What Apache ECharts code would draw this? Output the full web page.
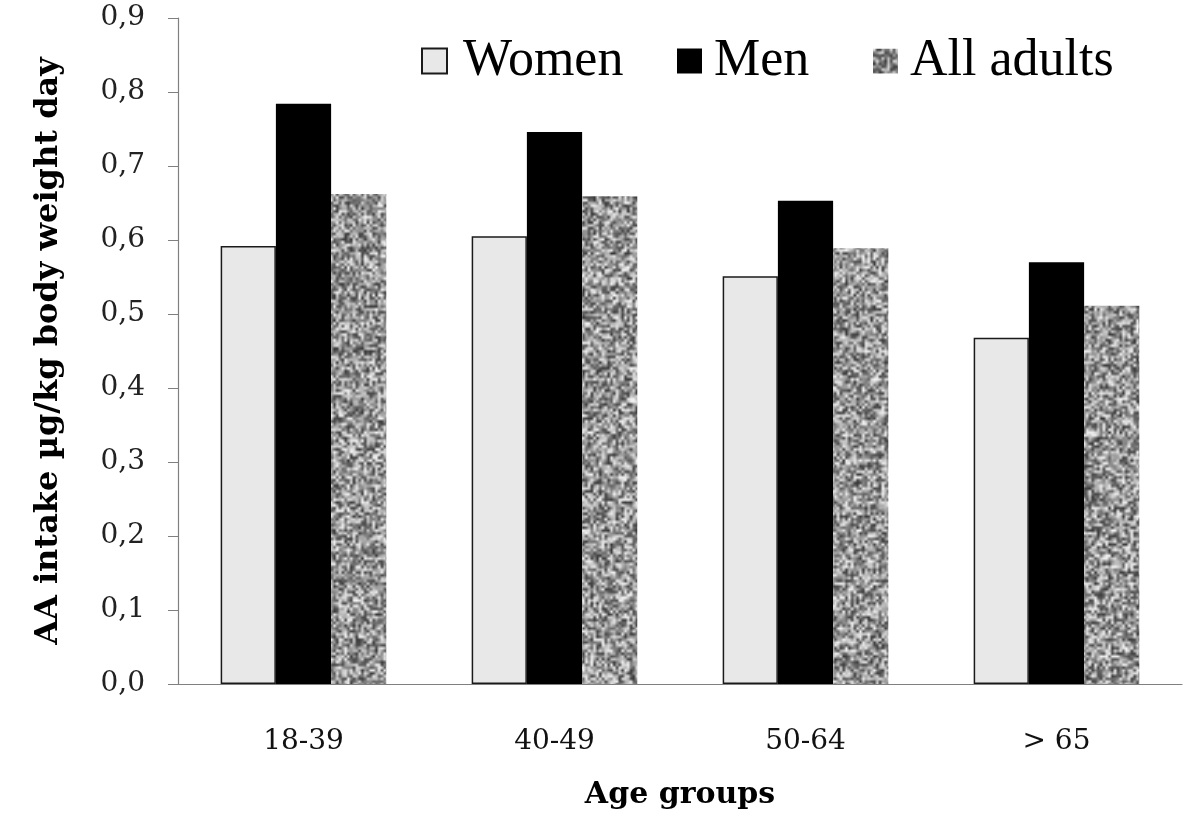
<!DOCTYPE html>
<html>
<head>
<meta charset="utf-8">
<title>AA intake by age group</title>
<script src="https://cdn.jsdelivr.net/npm/echarts@6/dist/echarts.min.js"></script>
<style>
  html, body { margin: 0; padding: 0; background: #fff; }
  #main { width: 1192px; height: 823px; }
</style>
</head>
<body>
<div id="main"></div>
<script>
// data
var ageGroups = ['18-39', '40-49', '50-64', '> 65'];
var women = [0.592, 0.605, 0.551, 0.468];
var men = [0.784, 0.746, 0.653, 0.570];
var allAdults = [0.662, 0.659, 0.589, 0.511];
var yTicks = [0, 0.9, 0.1]; // min, max, step

// blotchy grey texture for "All adults" (seeded, decoration only).
// made as big as the chart so the pattern never repeats -> no seams
function makeTexture(w, h) {
    var k = 2.8;
    var sw = Math.ceil(w / k), sh = Math.ceil(h / k);
    var small = document.createElement('canvas');
    small.width = sw; small.height = sh;
    var sctx = small.getContext('2d');
    var img = sctx.createImageData(sw, sh);
    var a = 20240611;
    function rnd() { // mulberry32
        a |= 0; a = a + 0x6D2B79F5 | 0;
        var t = Math.imul(a ^ a >>> 15, 1 | a);
        t = t + Math.imul(t ^ t >>> 7, 61 | t) ^ t;
        return ((t ^ t >>> 14) >>> 0) / 4294967296;
    }
    for (var i = 0; i < sw * sh; i++) {
        var g = Math.floor(55 + rnd() * 190);
        img.data[i * 4] = g;
        img.data[i * 4 + 1] = g;
        img.data[i * 4 + 2] = g;
        img.data[i * 4 + 3] = 255;
    }
    sctx.putImageData(img, 0, 0);
    var out = document.createElement('canvas');
    out.width = w; out.height = h;
    var ctx = out.getContext('2d');
    ctx.imageSmoothingEnabled = true;
    ctx.filter = 'blur(0.7px)';
    ctx.drawImage(small, 0, 0, w, h);
    return out;
}
var texture = makeTexture(1192, 823);

var serif = 'DejaVu Serif';
var chart = echarts.init(document.getElementById('main'));

var legendPos = [['Women', 421], ['Men', 677], ['All adults', 873]];

var option = {
    animation: false,
    backgroundColor: '#fff',
    grid: { left: 178, right: 10, top: 18, bottom: 139 },
    legend: legendPos.map(function (p) {
        return {
            data: [{ name: p[0], icon: 'rect' }],
            left: p[1], top: 35, padding: 0,
            itemWidth: 25, itemHeight: 25,
            textStyle: {
                fontFamily: 'Liberation Serif', fontSize: 52, color: '#000',
                padding: [2, 0, 0, p[0] === 'Women' ? 11 : 7]
            }
        };
    }),
    xAxis: {
        type: 'category',
        data: ageGroups,
        name: 'Age groups',
        nameLocation: 'middle',
        nameGap: 96,
        nameTextStyle: { fontFamily: serif, fontWeight: 'bold', fontSize: 30, color: '#000' },
        axisLine: { lineStyle: { color: '#808080', width: 1.2 } },
        axisTick: { length: 12, lineStyle: { color: '#808080' } },
        axisLabel: { fontFamily: serif, fontSize: 28, color: '#111', margin: 44 }
    },
    yAxis: {
        type: 'value',
        min: yTicks[0], max: yTicks[1], interval: yTicks[2],
        name: 'AA intake µg/kg body weight day',
        nameLocation: 'middle',
        nameGap: 113,
        nameTextStyle: { fontFamily: serif, fontWeight: 'bold', fontSize: 32, color: '#000' },
        axisLine: { show: true, lineStyle: { color: '#808080', width: 1.2 } },
        axisTick: { show: true, length: 10, lineStyle: { color: '#808080' } },
        splitLine: { show: false },
        axisLabel: {
            fontFamily: serif, fontSize: 28, color: '#222', margin: 33,
            formatter: function (v) { return v.toFixed(1).replace('.', ','); }
        }
    },
    series: [
        {
            name: 'Women', type: 'bar', data: women,
            barGap: '0%', barCategoryGap: '34%',
            itemStyle: { color: '#e8e8e8', borderColor: '#1a1a1a', borderWidth: 1.5 }
        },
        {
            name: 'Men', type: 'bar', data: men,
            itemStyle: { color: '#000' }
        },
        {
            name: 'All adults', type: 'bar', data: allAdults,
            itemStyle: { color: { image: texture, repeat: 'no-repeat' } }
        }
    ]
};
chart.setOption(option);
</script>
</body>
</html>
